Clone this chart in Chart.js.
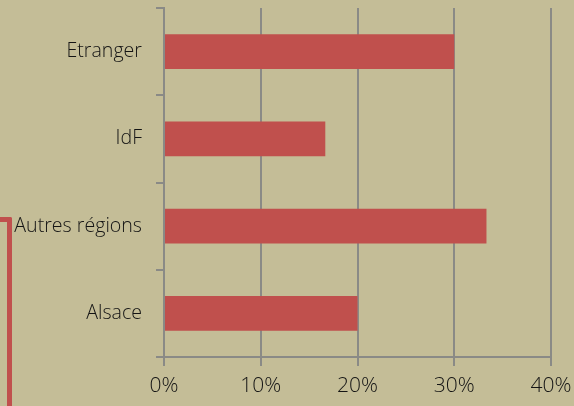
<!DOCTYPE html>
<html>
<head>
<meta charset="utf-8">
<script src="https://cdn.jsdelivr.net/npm/chart.js@4"></script>
<style>
  html, body { margin: 0; padding: 0; background: #c4bd97; }
  #wrap { position: relative; width: 574px; height: 406px; overflow: hidden; }
  #bracket {
    position: absolute; left: -6px; top: 217px; width: 13px; height: 220px;
    border-top: 5px solid #c0504d; border-right: 5px solid #c0504d;
    border-top-right-radius: 2px;
  }
</style>
</head>
<body>
<div id="wrap">
  <canvas id="chart" width="574" height="406"></canvas>
  <div id="bracket"></div>
</div>
<script>
// categories, top to bottom
const categories = ['Etranger', 'IdF', 'Autres régions', 'Alsace'];
// share of each category, in %
const shares = [30, 16.67, 33.33, 20];
const xTicks = [0, 10, 20, 30, 40];

const gridGrey = '#8a8a86';
const textColor = '#141414';

const ctx = document.getElementById('chart').getContext('2d');
new Chart(ctx, {
  type: 'bar',
  data: {
    labels: categories,
    datasets: [{
      data: shares,
      backgroundColor: '#c0504d',
      borderWidth: 0,
      categoryPercentage: 1,
      barPercentage: 0.4
    }]
  },
  options: {
    indexAxis: 'y',
    responsive: false,
    animation: false,
    layout: { padding: { top: 8, right: 23, left: 0, bottom: 0 } },
    plugins: { legend: { display: false }, tooltip: { enabled: false } },
    scales: {
      x: {
        min: xTicks[0],
        max: xTicks[xTicks.length - 1],
        afterBuildTicks: axis => { axis.ticks = xTicks.map(v => ({ value: v })); },
        afterFit: axis => {
          axis.height = 49;
          axis.paddingLeft = 0;
          axis.paddingRight = 0;
        },
        grid: { color: gridGrey, lineWidth: 2, tickLength: 9 },
        border: { color: gridGrey, width: 2 },
        ticks: {
          color: textColor,
          padding: 7,
          font: { family: 'Open Sans', size: 21, weight: 300 },
          callback: v => v + '%'
        }
      },
      y: {
        afterFit: axis => {
          axis.width = 164;
          axis.paddingTop = 0;
          axis.paddingBottom = 0;
        },
        grid: { offset: true, drawOnChartArea: false, color: gridGrey, lineWidth: 2, tickLength: 8 },
        border: { color: gridGrey, width: 2 },
        ticks: {
          color: textColor,
          padding: 14,
          font: { family: 'Open Sans', size: 19.6, weight: 300 }
        }
      }
    }
  }
});
</script>
</body>
</html>
